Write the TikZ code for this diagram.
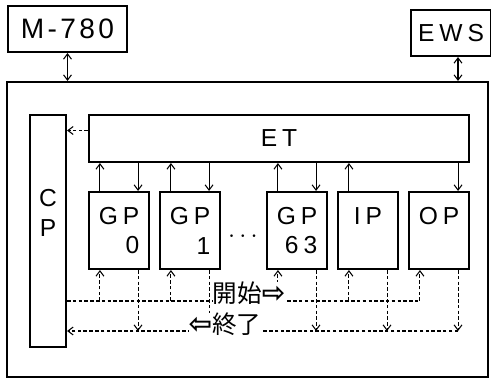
\documentclass[tikz,border=0pt]{standalone}
\usepackage{fontspec}
\setmainfont{Liberation Sans}
\newfontfamily\cjk{Noto Sans CJK JP}
\newfontfamily\pfeilfont{DejaVu Sans Bold}
\newfontfamily\spaced[LetterSpace=20]{Liberation Sans}
\newfontfamily\tight[LetterSpace=12]{Liberation Sans}
\usetikzlibrary{arrows.meta,calc}
\tikzset{>={Straight Barb[length=3pt,width=4.5pt]}}
\tikzset{
	box/.style={draw, line width=1.2pt, inner sep=0pt, font=\spaced\fontsize{14}{17}\selectfont},
	gpbox/.style={box, minimum width=1.2cm, minimum height=1.54cm, align=right},
	sig/.style={line width=0.6pt, dash pattern=on 2pt off 1.3pt},
	lbl/.style={fill=white, inner sep=0pt, font=\fontsize{14}{16}\selectfont}
}

\begin{document}
\begin{tikzpicture}[x=0.02cm, y=-0.02cm, line width=0.6pt]
	\useasboundingbox (0,0) rectangle (491,383);

	\node[box, minimum width=2.38cm, minimum height=0.92cm, font=\tight\fontsize{16}{18}\selectfont] (m780) at (67.5,29) {M-780};
	\node[box, minimum width=1.6cm, minimum height=0.92cm] (ews) at (451,33) {EWS};
	\node[box, minimum width=9.62cm, minimum height=5.9cm] (sys) at (247.5,229.5) {};
	\node[box, minimum width=0.72cm, minimum height=4.64cm] (cp) at (48,231) {};
	\node[box, draw=none, align=center] (cplabel) at (48,213) {C\\P};
	\node[box, minimum width=7.6cm, minimum height=0.94cm] (et) at (279,138.5) {ET};

	\node[gpbox] (gp0) at (119,230.5) {GP\\0};
	\node[gpbox] (gp1) at (190,230.5) {GP\\1};
	\node[gpbox] (gp63) at (297,230.5) {GP\\63};
	\node[gpbox] (ip) at (368,230.5) {IP\\\mbox{}};
	\node[gpbox] (op) at (439,230.5) {OP\\\mbox{}};
	\node[font=\fontsize{14}{16}\selectfont] (dots) at (243,237) {$\cdots$};

	\coordinate (ewsport) at ($(ews.south)+(7,0)$);
	\draw[<->] (m780.south) -- (m780.south |- sys.north);
	\draw[<->] (ewsport) -- (ewsport |- sys.north);

	\foreach \n in {gp0,gp1,gp63,ip,op} {
		\coordinate (\n-up) at ($(\n.north west)+(12,0)$);
		\coordinate (\n-dn) at ($(\n.north east)+(-12,0)$);
		\coordinate (\n-st) at ($(\n.south west)+(12,0)$);
		\coordinate (\n-en) at ($(\n.south east)+(-12,0)$);
	}
	\foreach \n in {gp0,gp1,gp63,ip}
		\draw[->] (\n-up) -- (\n-up |- et.south);
	\foreach \n in {gp0,gp1,gp63,op}
		\draw[->] (\n-dn |- et.south) -- (\n-dn);

	\coordinate (etcp) at ($(et.west)+(0,-8)$);
	\draw[sig,->] (etcp) -- (etcp -| cp.east);

	\coordinate (kaishi) at (cp.east |- 0,301);
	\coordinate (shuryo) at (cp.east |- 0,331);
	\draw[sig] (kaishi) -- (kaishi -| op-st);
	\foreach \n in {gp0,gp1,gp63,ip,op} {
		\draw[sig,->] (kaishi -| \n-st) -- (\n-st);
		\draw[sig,->] (\n-en) -- (shuryo -| \n-en);
	}
	\draw[sig,->] (shuryo -| op-en) -- (shuryo);

	\node[lbl] (kaishilbl) at (249,293) {\cjk 開始\pfeilfont\fontsize{16}{16}\selectfont ⇨};
	\node[lbl] (shuryolbl) at (225,324) {\pfeilfont\fontsize{16}{16}\selectfont ⇦\cjk\fontsize{14}{16}\selectfont 終了};
\end{tikzpicture}
\end{document}
